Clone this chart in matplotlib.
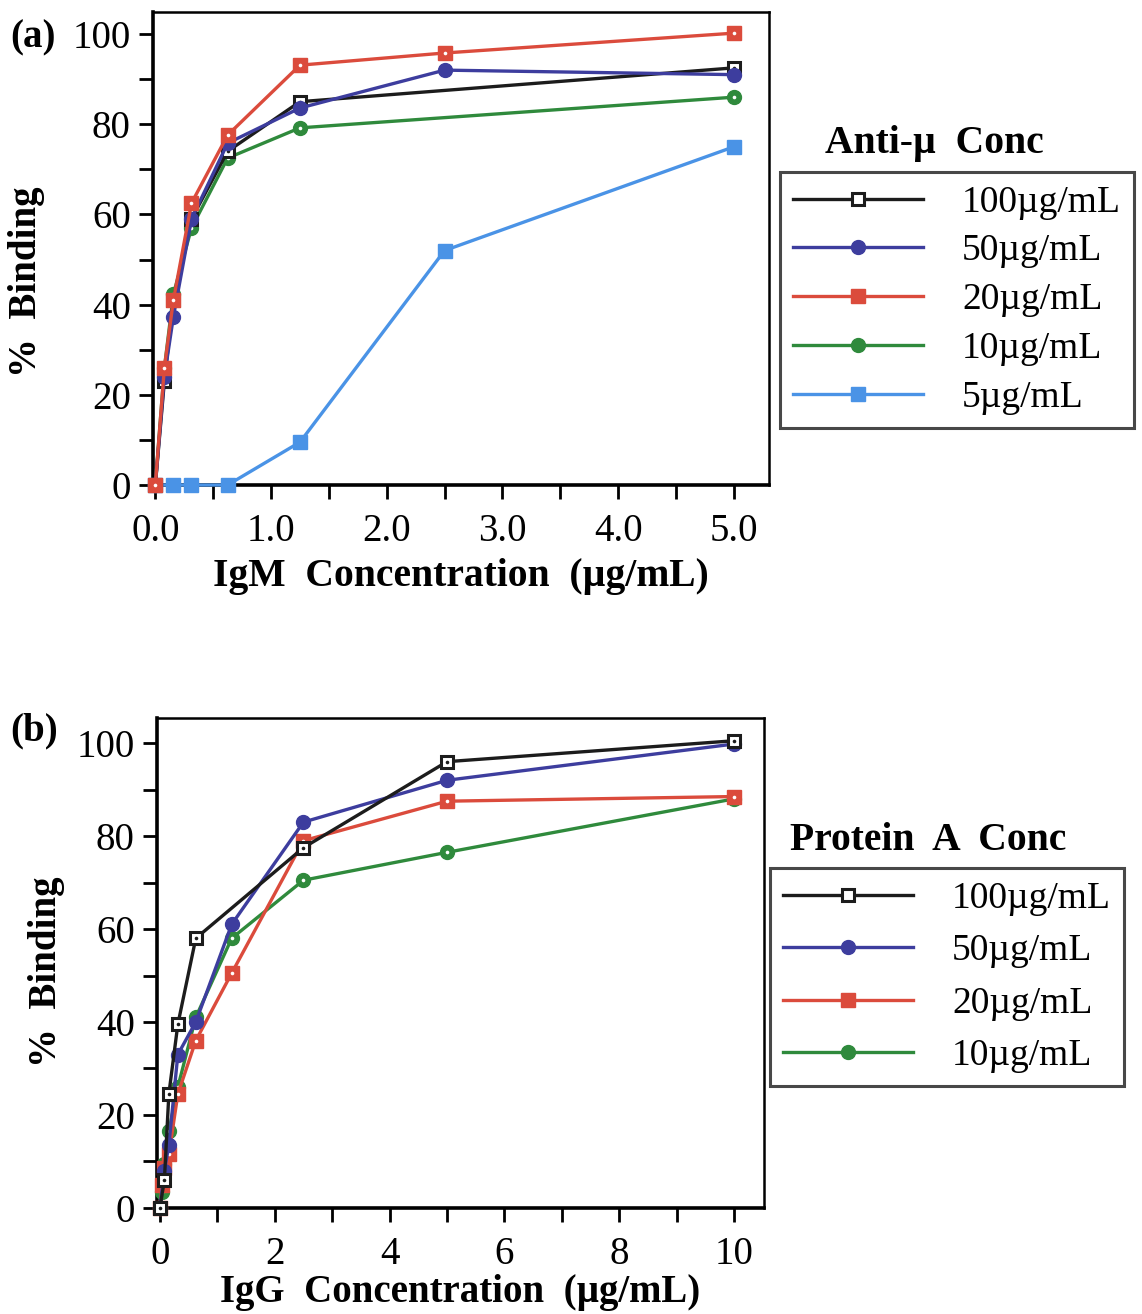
import matplotlib
matplotlib.use("Agg")
import matplotlib.pyplot as plt
from matplotlib.ticker import MultipleLocator
from matplotlib.lines import Line2D

# ---------------- data ----------------
# Panel (a): IgM concentration (ug/mL) vs % binding, by anti-mu concentration
a_labels = ["100\u00b5g/mL", "50\u00b5g/mL", "20\u00b5g/mL", "10\u00b5g/mL", "5\u00b5g/mL"]
a_x100 = [0, 0.078, 0.156, 0.3125, 0.625, 1.25, 5.0]
a_y100 = [0, 23, 41, 59, 74, 85, 92.5]
a_x50 = [0, 0.078, 0.156, 0.3125, 0.625, 1.25, 2.5, 5.0]
a_y50 = [0, 24, 37.3, 59, 75.8, 83.6, 92, 91]
a_x20 = [0, 0.078, 0.156, 0.3125, 0.625, 1.25, 2.5, 5.0]
a_y20 = [0, 26, 41, 62.5, 77.6, 93.1, 95.8, 100.2]
a_x10 = [0, 0.078, 0.156, 0.3125, 0.625, 1.25, 5.0]
a_y10 = [0, 25.9, 42.3, 57, 72.5, 79.2, 86]
a_x5 = [0, 0.156, 0.3125, 0.625, 1.25, 2.5, 5.0]
a_y5 = [0, 0, 0, 0, 9.5, 52, 75]

# Panel (b): IgG concentration (ug/mL) vs % binding, by protein A concentration
b_labels = ["100\u00b5g/mL", "50\u00b5g/mL", "20\u00b5g/mL", "10\u00b5g/mL"]
b_x100 = [0, 0.078, 0.156, 0.3125, 0.625, 2.5, 5.0, 10.0]
b_y100 = [0, 6, 24.5, 39.5, 58, 77.5, 96, 100.5]
b_x50 = [0, 0.078, 0.156, 0.3125, 0.625, 1.25, 2.5, 5.0, 10.0]
b_y50 = [0, 8, 13.5, 33, 40, 61, 83, 92, 99.8]
b_x20 = [0, 0.039, 0.078, 0.156, 0.3125, 0.625, 1.25, 2.5, 5.0, 10.0]
b_y20 = [0, 5, 8.5, 11.5, 24.5, 36, 50.5, 79, 87.5, 88.5]
b_x10 = [0, 0.039, 0.078, 0.156, 0.3125, 0.625, 1.25, 2.5, 5.0, 10.0]
b_y10 = [0, 3.5, 9.5, 16.5, 26, 41, 58, 70.5, 76.5, 88]

a_xticks = [0, 1, 2, 3, 4, 5]
a_xticklabels = ["0.0", "1.0", "2.0", "3.0", "4.0", "5.0"]
b_xticks = [0, 2, 4, 6, 8, 10]
y_ticks = [0, 20, 40, 60, 80, 100]

# ---------------- style ----------------
C_BLACK = "#1c1c1c"
C_BLUE = "#3d3d9e"
C_RED = "#db4b3c"
C_GREEN = "#2f8a3c"
C_LBLUE = "#4a93e6"

SERIF = ["Liberation Serif", "DejaVu Serif"]
plt.rcParams["font.family"] = SERIF

fig = plt.figure(figsize=(11.42, 13.14), dpi=100)

styles = {
    "100": dict(color=C_BLACK, marker="s", ms=9, mfc="white", mec=C_BLACK, mew=2.2),
    "50": dict(color=C_BLUE, marker="o", ms=10, mfc=C_BLUE, mec=C_BLUE, mew=1),
    "20": dict(color=C_RED, marker="s", ms=10, mfc=C_RED, mec=C_RED, mew=1),
    "10": dict(color=C_GREEN, marker="o", ms=10, mfc=C_GREEN, mec=C_GREEN, mew=1),
    "5": dict(color=C_LBLUE, marker="s", ms=10, mfc=C_LBLUE, mec=C_LBLUE, mew=1),
}
dot_keys = {"100": C_BLACK, "20": "white", "10": "white"}


def draw(ax, x, y, key, z):
    st = styles[key]
    ax.plot(x, y, lw=2.4, zorder=z, clip_on=False, **st)
    if key in dot_keys:
        ax.plot(x, y, ls="none", marker="o", ms=2.6, mfc=dot_keys[key],
                mec="none", zorder=z + 0.5, clip_on=False)


def style_axes(ax):
    for s in ["left", "bottom"]:
        ax.spines[s].set_linewidth(2.6)
    for s in ["top", "right"]:
        ax.spines[s].set_linewidth(1.8)
    ax.tick_params(axis="both", which="both", direction="out", length=10,
                   width=2, labelsize=28, pad=6, top=False, right=False)
    ax.tick_params(axis="x", pad=10)
    ax.set_yticks(y_ticks)
    ax.yaxis.set_minor_locator(MultipleLocator(10))


# ---------------- panel (a) ----------------
axa = fig.add_axes([0.134, 0.6309, 0.539, 0.36])
draw(axa, a_x5, a_y5, "5", 3)
draw(axa, a_x10, a_y10, "10", 4)
draw(axa, a_x100, a_y100, "100", 5)
draw(axa, a_x50, a_y50, "50", 6)
draw(axa, a_x20, a_y20, "20", 7)
axa.set_xlim(-0.02, 5.3)
axa.set_ylim(0, 104.9)
style_axes(axa)
axa.set_xticks(a_xticks)
axa.set_xticklabels(a_xticklabels)
axa.xaxis.set_minor_locator(MultipleLocator(0.5))
axa.set_xlabel("IgM  Concentration  (\u00b5g/mL)", fontsize=28.5,
               fontweight="bold", labelpad=6)
axa.set_ylabel("%  Binding", fontsize=28, fontweight="bold")
axa.yaxis.set_label_coords(-0.175, 0.43)
fig.text(0.009, 0.971, "(a)", fontsize=28, fontweight="bold", ha="left", va="center")

# ---------------- panel (b) ----------------
axb = fig.add_axes([0.1375, 0.0807, 0.5315, 0.3729])
draw(axb, b_x10, b_y10, "10", 4)
draw(axb, b_x20, b_y20, "20", 5)
draw(axb, b_x50, b_y50, "50", 6)
draw(axb, b_x100, b_y100, "100", 7)
axb.set_xlim(-0.05, 10.52)
axb.set_ylim(0, 105.4)
style_axes(axb)
axb.set_xticks(b_xticks)
axb.xaxis.set_minor_locator(MultipleLocator(1))
axb.set_xlabel("IgG  Concentration  (\u00b5g/mL)", fontsize=28,
               fontweight="bold", labelpad=1)
axb.set_ylabel("%  Binding", fontsize=28, fontweight="bold")
axb.yaxis.set_label_coords(-0.152, 0.482)
fig.text(0.009, 0.444, "(b)", fontsize=28, fontweight="bold", ha="left", va="center")


# ---------------- legends ----------------
def make_handles(keys):
    return [Line2D([], [], lw=2.4, **styles[k]) for k in keys]


def add_legend(keys, labels, bbox, spacing):
    leg = fig.legend(make_handles(keys), labels, loc="upper left",
                     bbox_to_anchor=bbox, bbox_transform=fig.transFigure,
                     fontsize=27, frameon=True, fancybox=False,
                     handlelength=3.45, handletextpad=1.05, labelspacing=spacing,
                     borderpad=0.35, borderaxespad=0)
    fr = leg.get_frame()
    fr.set_edgecolor("#1a1a1a")
    fr.set_linewidth(2.2)
    return leg


add_legend(["100", "50", "20", "10", "5"], a_labels,
           (780 / 1142, 1 - 172 / 1314), 0.38)
fig.text(934 / 1142, 1 - 143 / 1314, "Anti-\u00b5  Conc", fontsize=28.5,
         fontweight="bold", ha="center", va="center")

add_legend(["100", "50", "20", "10"], b_labels,
           (770 / 1142, 1 - 868 / 1314), 0.48)
fig.text(928 / 1142, 1 - 840 / 1314, "Protein  A  Conc", fontsize=28.5,
         fontweight="bold", ha="center", va="center")

fig.savefig("out.png", dpi=100, facecolor="white")
